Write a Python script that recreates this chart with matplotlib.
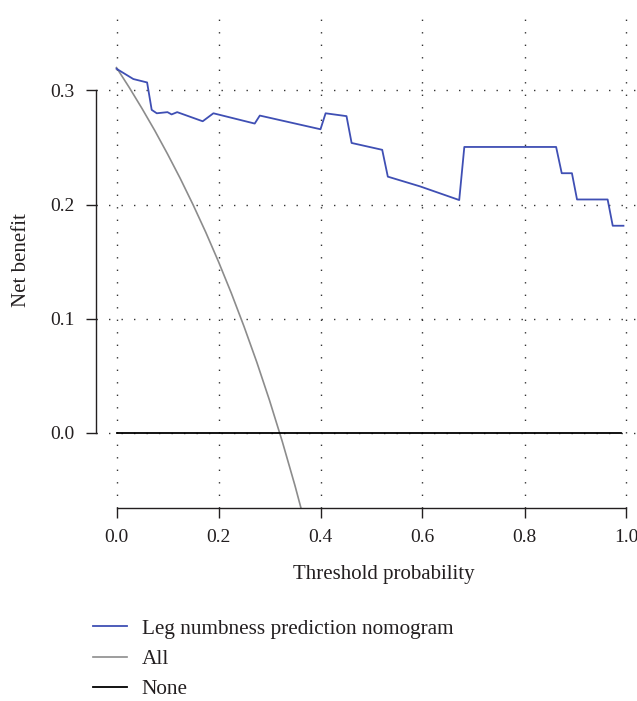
import matplotlib
matplotlib.use("Agg")
import matplotlib.pyplot as plt

plt.rcParams['font.family'] = ['Liberation Serif', 'DejaVu Serif']

# ---- data ----
thr_model = [0.000, 0.033, 0.060, 0.069, 0.079, 0.100, 0.108, 0.119, 0.169, 0.190,
             0.271, 0.281, 0.400, 0.410, 0.451, 0.461, 0.521, 0.532, 0.595, 0.672,
             0.682, 0.862, 0.873, 0.893, 0.903, 0.963, 0.973, 0.994]
nb_model = [0.319, 0.310, 0.307, 0.283, 0.280, 0.281, 0.279, 0.281, 0.273, 0.280,
            0.271, 0.278, 0.266, 0.280, 0.2775, 0.254, 0.248, 0.2245, 0.216, 0.204,
            0.2505, 0.2505, 0.2275, 0.2275, 0.2045, 0.2045, 0.1815, 0.1815]

thr_all = [0.000, 0.025, 0.050, 0.075, 0.100, 0.125, 0.150, 0.175, 0.200,
           0.225, 0.250, 0.275, 0.300, 0.325, 0.350, 0.375, 0.400]
nb_all = [0.320, 0.3026, 0.2842, 0.2649, 0.2444, 0.2229, 0.200, 0.1758, 0.150,
          0.1226, 0.0933, 0.0621, 0.0286, -0.0074, -0.0462, -0.088, -0.1333]

thr_none = [0.0, 0.99]
nb_none = [0.0, 0.0]

x_ticks = [0.0, 0.2, 0.4, 0.6, 0.8, 1.0]
x_ticklabels = ['0.0', '0.2', '0.4', '0.6', '0.8', '1.0']
y_ticks = [0.0, 0.1, 0.2, 0.3]
y_ticklabels = ['0.0', '0.1', '0.2', '0.3']

labels = ['Leg numbness prediction nomogram', 'All', 'None']
colors = ['#3F4FB4', '#8C8C8C', '#000000']

TXT = '#231F20'
W, H = 637, 701
fig = plt.figure(figsize=(W / 100, H / 100), dpi=100)
ax = fig.add_axes([96.1 / W, 1 - 508.3 / H, 550.8 / W, 493.2 / H])
ax.set_xlim(-0.04, 1.04)
ax.set_ylim(-0.066, 0.366)

ax.grid(True, color='#333333', linestyle=(0, (1, 8)), linewidth=1.0, zorder=0)
ax.set_axisbelow(True)

l1, = ax.plot(thr_model, nb_model, color=colors[0], lw=1.3, zorder=3)
l2, = ax.plot(thr_all, nb_all, color=colors[1], lw=1.2, zorder=2)
l3, = ax.plot(thr_none, nb_none, color=colors[2], lw=1.3, zorder=2)

for s in ['top', 'right']:
    ax.spines[s].set_visible(False)
ax.spines['left'].set_bounds(0, 0.3)
ax.spines['bottom'].set_bounds(0, 1.0)
for s in ['left', 'bottom']:
    ax.spines[s].set_linewidth(1.0)
    ax.spines[s].set_color(TXT)

ax.set_xticks(x_ticks)
ax.set_xticklabels(x_ticklabels)
ax.set_yticks(y_ticks)
ax.set_yticklabels(y_ticklabels)
ax.tick_params(direction='out', length=7.2, width=1.0, colors=TXT,
               labelsize=14, pad=8)

fig.text(384 / W, 1 - 575 / H, 'Threshold probability', ha='center', va='center',
         fontsize=15, color=TXT)
fig.text(22 / W, 1 - 260 / H, 'Net benefit', rotation=90, ha='center', va='center',
         fontsize=15, color=TXT)

fig.legend([l1, l2, l3], labels, loc='upper left',
           bbox_to_anchor=(93 / W, 1 - 619 / H), bbox_transform=fig.transFigure,
           frameon=False, prop={'size': 15.3}, handlelength=1.6, handletextpad=0.7,
           labelspacing=0.48, borderpad=0, borderaxespad=0, labelcolor=TXT)

fig.savefig('out.png', dpi=100)
